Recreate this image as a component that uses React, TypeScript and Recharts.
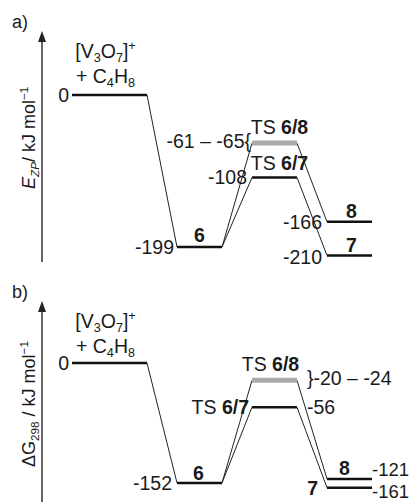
import { LineChart, Line, XAxis, YAxis, ReferenceDot } from 'recharts';

type Part = { t: string; sub?: boolean; sup?: boolean; b?: boolean; i?: boolean };

// states along the reaction coordinate: reactants, 6, TS 6/7, TS 6/8, 7, 8
const stateNames = ['', '6', '6/7', '6/8', '7', '8'];
const stateSpan = [[0, 2.5], [3.5, 5], [6, 7.5], [6, 7.5], [8.5, 10], [8.5, 10]];
const links = [[0, 1], [1, 2], [1, 3], [2, 4], [3, 5]];

// panel a: zero-point corrected energies
const ezpLevels = [0, -199, -108, -63, -210, -166];
const ezpLabels = ['0', '-199', '-108', '-61 – -65{', '-210', '-166'];
// panel b: free energies (level heights as drawn)
const dgLevels = [0, -152, -56, -22, -158, -147];
const dgLabels = ['0', '-152', '-56', '}-20 – -24', '-161', '-121'];

const reactantText: Part[][] = [
  [{ t: '[V' }, { t: '3', sub: true }, { t: 'O' }, { t: '7', sub: true }, { t: ']' }, { t: '+', sup: true }],
  [{ t: '+ C' }, { t: '4', sub: true }, { t: 'H' }, { t: '8', sub: true }],
];
const ezpTitle: Part[] = [{ t: 'E', i: true }, { t: 'ZP', sub: true, i: true }, { t: '/ kJ mol' }, { t: '−1', sup: true }];
const dgTitle: Part[] = [{ t: 'ΔG' }, { t: '298', sub: true }, { t: ' / kJ mol' }, { t: '−1', sup: true }];

const FONT = 19.5;
const INK = '#1a1a1a';

function Txt({ x, y, parts, anchor = 'start', size = FONT, rotate = false }: {
  x: number; y: number; parts: Part[]; anchor?: 'start' | 'middle' | 'end'; size?: number; rotate?: boolean;
}) {
  let shift = 0;
  const spans = parts.map((p, k) => {
    const target = p.sub ? size * 0.22 : p.sup ? -size * 0.4 : 0;
    const dy = target - shift;
    shift = target;
    return (
      <tspan key={k} dy={dy} fontSize={p.sub || p.sup ? size * 0.65 : size}
        fontWeight={p.b ? 700 : 400} fontStyle={p.i ? 'italic' : 'normal'}>
        {p.t}
      </tspan>
    );
  });
  return (
    <text x={x} y={y + size * 0.35} textAnchor={anchor} fill={INK}
      fontFamily="'Liberation Sans', Arial, sans-serif"
      transform={rotate ? `rotate(-90 ${x} ${y})` : undefined}>
      {spans}
    </text>
  );
}

const plain = (t: string): Part[] => [{ t }];
const ts = (n: string): Part[] => [{ t: 'TS ' }, { t: n, b: true }];
const bold = (t: string): Part[] => [{ t, b: true }];

function Panel({ tag, levels, labels, domain, height, title, titleAt }: {
  tag: 'a' | 'b'; levels: number[]; labels: string[]; domain: [number, number];
  height: number; title: Part[]; titleAt: number;
}) {
  const left = (i: number) => stateSpan[i][0];
  const right = (i: number) => stateSpan[i][1];
  const mid = (i: number) => (stateSpan[i][0] + stateSpan[i][1]) / 2;

  const at = (key: string, x: number, y: number, draw: (cx: number, cy: number) => any) => (
    <ReferenceDot key={key} x={x} y={y} r={0} ifOverflow="visible"
      shape={(p: any) => draw(p.cx, p.cy)} />
  );
  const note = (key: string, x: number, y: number, parts: Part[], dx: number, dy: number,
    anchor: 'start' | 'middle' | 'end' = 'middle', size = FONT) =>
    at(key, x, y, (cx, cy) => <Txt x={cx + dx} y={cy + dy} parts={parts} anchor={anchor} size={size} />);

  const shared = [
    at('arrow', -1, domain[1], (cx, cy) => (
      <path d={`M${cx},${cy - 4} L${cx - 4},${cy + 7} L${cx + 4},${cy + 7} Z`} fill="#222" />
    )),
    note('tag', -1, domain[1], plain(tag + ')'), -30, -13, 'start', 18),
    at('title', -1, titleAt, (cx, cy) => <Txt x={cx - 13} y={cy} parts={title} anchor="middle" size={18} rotate />),
    note('r1', mid(0), levels[0], reactantText[0], -4, tag === 'a' ? -44 : -42),
    note('r2', mid(0), levels[0], reactantText[1], -4, tag === 'a' ? -19 : -17),
    note('l0', left(0), levels[0], plain(labels[0]), -3, 0, 'end'),
  ];

  const notes = tag === 'a'
    ? [
        note('l1', left(1), levels[1], plain(labels[1]), -3, 0, 'end'),
        note('n1', mid(1), levels[1], bold(stateNames[1]), 0, -12),
        note('l3', left(3), levels[3], plain(labels[3]), -1, -2, 'end'),
        note('n3', mid(3), levels[3], ts(stateNames[3]), 5, -16),
        note('n2', mid(2), levels[2], ts(stateNames[2]), 5, -14),
        note('l2', left(2), levels[2], plain(labels[2]), -5, 0, 'end'),
        note('n5', mid(5), levels[5], bold(stateNames[5]), 2, -11),
        note('l5', left(5), levels[5], plain(labels[5]), -5, 0, 'end'),
        note('n4', mid(4), levels[4], bold(stateNames[4]), 2, -10),
        note('l4', left(4), levels[4], plain(labels[4]), -5, 2, 'end'),
      ]
    : [
        note('l1', left(1), levels[1], plain(labels[1]), -5, 0, 'end'),
        note('n1', mid(1), levels[1], bold(stateNames[1]), -1, -10),
        note('n3', mid(3), levels[3], ts(stateNames[3]), -4, -16),
        note('l3', right(3), levels[3], plain(labels[3]), 10, -2, 'start'),
        note('n2', left(2), levels[2], ts(stateNames[2]), -3, 0, 'end'),
        note('l2', right(2), levels[2], plain(labels[2]), 10, 0, 'start'),
        note('n5', mid(5), levels[5], bold(stateNames[5]), -5, -11),
        note('l5', right(5), levels[5], plain(labels[5]), 0, -9, 'start', 18.5),
        note('n4', left(4), levels[4], bold(stateNames[4]), -9, 1, 'end'),
        note('l4', right(4), levels[4], plain(labels[4]), 0, 4, 'start', 18.5),
      ];

  return (
    <LineChart width={414} height={height} margin={{ top: 35, right: 0, bottom: tag === 'a' ? 8 : 0, left: 12 }}>
      <XAxis type="number" dataKey="x" domain={[-1, 11.4]} allowDataOverflow hide />
      <YAxis type="number" domain={domain} allowDataOverflow width={30} tick={false} tickLine={false}
        axisLine={{ stroke: '#666', strokeWidth: 2 }} />
      {links.map(([a, b], k) => (
        <Line key={'c' + k} dataKey="y" stroke="#222" strokeWidth={1} dot={false} isAnimationActive={false}
          data={[{ x: right(a), y: levels[a] }, { x: left(b), y: levels[b] }]} />
      ))}
      {levels.map((v, i) => (
        <Line key={'s' + i} dataKey="y" dot={false} isAnimationActive={false}
          stroke={i === 3 ? '#aaaaaa' : '#111'} strokeWidth={i === 3 ? 5 : 2.5}
          data={[{ x: left(i), y: v }, { x: right(i), y: v }]} />
      ))}
      {shared}
      {notes}
    </LineChart>
  );
}

export default function App() {
  return (
    <div style={{ position: 'absolute', left: 0, top: 0, width: 414, height: 502, background: '#fff' }}>
      <Panel tag="a" levels={ezpLevels} labels={ezpLabels} domain={[-218.6, 78.5]} height={270}
        title={ezpTitle} titleAt={-56} />
      <Panel tag="b" levels={dgLevels} labels={dgLabels} domain={[-176.2, 73.5]} height={232}
        title={dgTitle} titleAt={-52} />
    </div>
  );
}
